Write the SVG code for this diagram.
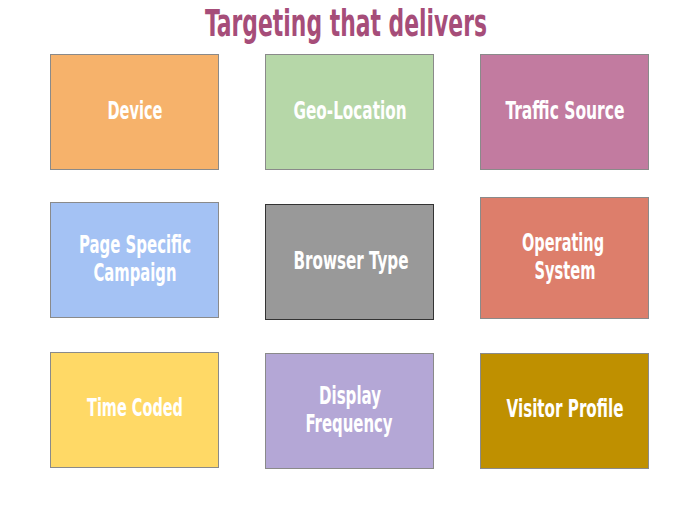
<svg xmlns="http://www.w3.org/2000/svg" width="697" height="509" viewBox="0 0 697 509">
<style>
.box{stroke:#8a8a8a;stroke-width:1}
.lbl{font-family:"DejaVu Sans Condensed","DejaVu Sans","Liberation Sans",sans-serif;font-stretch:condensed;font-weight:bold;font-size:24px;fill:#ffffff;text-anchor:middle}
.title{font-family:"DejaVu Sans Condensed","DejaVu Sans","Liberation Sans",sans-serif;font-stretch:condensed;font-weight:bold;font-size:38px;fill:#a64d79;text-anchor:middle}
</style>
<rect width="697" height="509" fill="#ffffff"/>
<text class="title" x="346" y="36" textLength="282" lengthAdjust="spacingAndGlyphs">Targeting that delivers</text>
<g id="device"><rect class="box" x="50.5" y="54.5" width="168" height="115" fill="#f6b26b"/><text class="lbl" x="135" y="119" textLength="55" lengthAdjust="spacingAndGlyphs">Device</text></g>
<g id="geo"><rect class="box" x="265.5" y="54.5" width="168" height="115" fill="#b6d7a8"/><text class="lbl" x="350" y="119" textLength="113" lengthAdjust="spacingAndGlyphs">Geo-Location</text></g>
<g id="traffic"><rect class="box" x="480.5" y="54.5" width="168" height="115" fill="#c27ba0"/><text class="lbl" x="565" y="119" textLength="119" lengthAdjust="spacingAndGlyphs">Traffic Source</text></g>
<g id="page"><rect class="box" x="50.5" y="202.5" width="168" height="115" fill="#a4c2f4"/><text class="lbl" x="135" y="253" textLength="112" lengthAdjust="spacingAndGlyphs">Page Specific</text><text class="lbl" x="135" y="281" textLength="83" lengthAdjust="spacingAndGlyphs">Campaign</text></g>
<g id="browser"><rect x="265.5" y="204.5" width="168" height="115" fill="#999999" stroke="#333333" stroke-width="1"/><text class="lbl" x="351" y="269" textLength="115" lengthAdjust="spacingAndGlyphs">Browser Type</text></g>
<g id="os"><rect class="box" x="480.5" y="197.5" width="168" height="121" fill="#dd7e6b"/><text class="lbl" x="563" y="251" textLength="82" lengthAdjust="spacingAndGlyphs">Operating</text><text class="lbl" x="565" y="279" textLength="61" lengthAdjust="spacingAndGlyphs">System</text></g>
<g id="time"><rect class="box" x="50.5" y="352.5" width="168" height="115" fill="#ffd966"/><text class="lbl" x="135" y="416" textLength="96" lengthAdjust="spacingAndGlyphs">Time Coded</text></g>
<g id="display"><rect class="box" x="265.5" y="353.5" width="168" height="115" fill="#b4a7d6"/><text class="lbl" x="350" y="404" textLength="62" lengthAdjust="spacingAndGlyphs">Display</text><text class="lbl" x="349" y="432" textLength="87" lengthAdjust="spacingAndGlyphs">Frequency</text></g>
<g id="visitor"><rect class="box" x="480.5" y="353.5" width="168" height="115" fill="#bf9000"/><text class="lbl" x="565" y="417" textLength="117" lengthAdjust="spacingAndGlyphs">Visitor Profile</text></g>
<g id="connectors"/>
</svg>
